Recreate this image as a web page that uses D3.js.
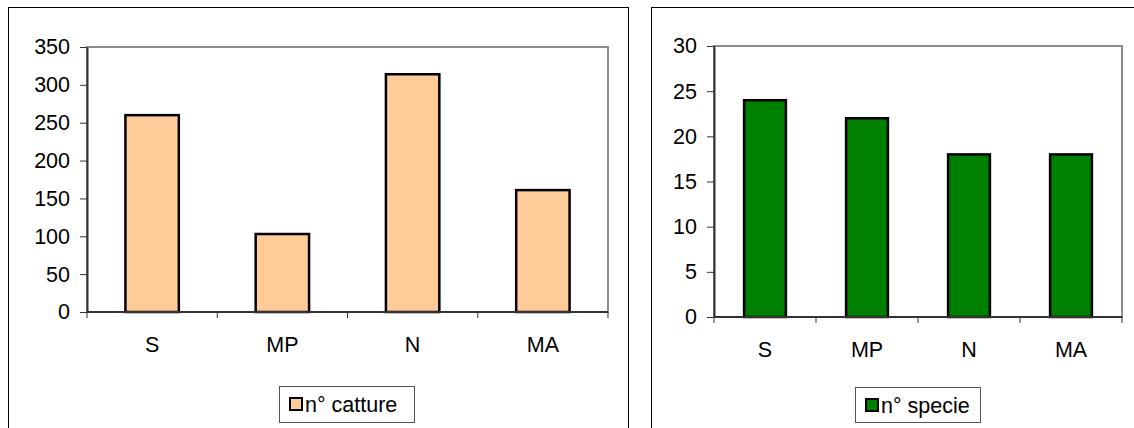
<!DOCTYPE html>
<html>
<head>
<meta charset="utf-8">
<script src="https://cdn.jsdelivr.net/npm/d3@7"></script>
<style>
  html, body { margin: 0; padding: 0; background: #fff; }
  svg { display: block; font-family: "Liberation Sans", Arial, sans-serif; }
</style>
</head>
<body>
<svg id="chart" width="1134" height="428"></svg>
<script>
// Sites and counts per site
const categories = ["S", "MP", "N", "MA"];
const catture = [260, 103, 314, 161];
const specie = [24, 22, 18, 18];
const catturaTicks = [0, 50, 100, 150, 200, 250, 300, 350];
const specieTicks = [0, 5, 10, 15, 20, 25, 30];

const FONT = 21.5;
const svg = d3.select("#chart");

function panel(cfg) {
  const g = svg.append("g");

  // outer chart frame
  g.append("rect")
    .attr("x", cfg.frame[0] + 0.5).attr("y", cfg.frame[1] + 0.5)
    .attr("width", cfg.frame[2]).attr("height", cfg.frame[3])
    .attr("fill", "#fff").attr("stroke", "#000").attr("stroke-width", 1);

  const x = d3.scaleBand().domain(categories)
    .range([cfg.left, cfg.right]).paddingInner(0.59).paddingOuter(0.295);
  const xCat = d3.scaleBand().domain(categories).range([cfg.left, cfg.right]);
  const y = d3.scaleLinear().domain([0, d3.max(cfg.ticks)]).range([cfg.bottom, cfg.top]);

  // plot area border
  g.append("rect")
    .attr("x", cfg.left).attr("y", cfg.top)
    .attr("width", cfg.right - cfg.left).attr("height", cfg.bottom - cfg.top)
    .attr("fill", "none").attr("stroke", "#8c8c8c").attr("stroke-width", 2);

  // bars
  g.selectAll("rect.bar").data(cfg.values).join("rect")
    .attr("class", "bar")
    .attr("x", (d, i) => x(categories[i]))
    .attr("y", d => y(d))
    .attr("width", x.bandwidth())
    .attr("height", d => y(0) - y(d))
    .attr("fill", cfg.color)
    .attr("stroke", "#000").attr("stroke-width", 2.5);

  // y axis
  const yAxis = g.append("g")
    .attr("transform", `translate(${cfg.left},0)`)
    .call(d3.axisLeft(y).tickValues(cfg.ticks).tickSize(7).tickPadding(10).tickSizeOuter(0));
  yAxis.select(".domain").attr("stroke", "#333").attr("stroke-width", 2);
  yAxis.selectAll(".tick line").attr("stroke", "#333");
  yAxis.selectAll("text").attr("font-size", FONT).attr("fill", "#000")
    .attr("font-family", "Liberation Sans, Arial, sans-serif");

  // x axis: tick marks at category boundaries
  const bounds = categories.map(c => xCat(c)).concat([cfg.right]);
  g.append("line")
    .attr("x1", cfg.left).attr("x2", cfg.right)
    .attr("y1", cfg.bottom).attr("y2", cfg.bottom)
    .attr("stroke", "#333").attr("stroke-width", 2);
  g.selectAll("line.xtick").data(bounds).join("line")
    .attr("class", "xtick")
    .attr("x1", d => d).attr("x2", d => d)
    .attr("y1", cfg.bottom).attr("y2", cfg.bottom + 6)
    .attr("stroke", "#333").attr("stroke-width", 1);
  g.selectAll("text.xlab").data(categories).join("text")
    .attr("class", "xlab")
    .attr("x", d => xCat(d) + xCat.bandwidth() / 2)
    .attr("y", cfg.bottom + 40)
    .attr("text-anchor", "middle")
    .attr("font-size", FONT)
    .text(d => d);

  // legend
  const lg = g.append("g");
  lg.append("rect")
    .attr("x", cfg.legend[0] + 0.5).attr("y", cfg.legend[1] + 0.5)
    .attr("width", cfg.legend[2]).attr("height", cfg.legend[3])
    .attr("fill", "#fff").attr("stroke", "#555").attr("stroke-width", 1);
  lg.append("rect")
    .attr("x", cfg.legend[0] + 11).attr("y", cfg.legend[1] + 12)
    .attr("width", 12).attr("height", 12)
    .attr("fill", cfg.color).attr("stroke", "#000").attr("stroke-width", 2);
  lg.append("text")
    .attr("x", cfg.legend[0] + 26).attr("y", cfg.legend[1] + 26)
    .attr("font-size", FONT)
    .text(cfg.label);
}

panel({
  frame: [8, 7, 620, 440],
  left: 87, right: 608, top: 47, bottom: 312,
  ticks: catturaTicks, values: catture, color: "#ffcc99",
  legend: [279, 386, 135, 36], label: "n° catture"
});

panel({
  frame: [651, 7, 500, 440],
  left: 714, right: 1122, top: 46, bottom: 317,
  ticks: specieTicks, values: specie, color: "#008000",
  legend: [855, 387, 125, 35], label: "n° specie"
});
</script>
</body>
</html>
